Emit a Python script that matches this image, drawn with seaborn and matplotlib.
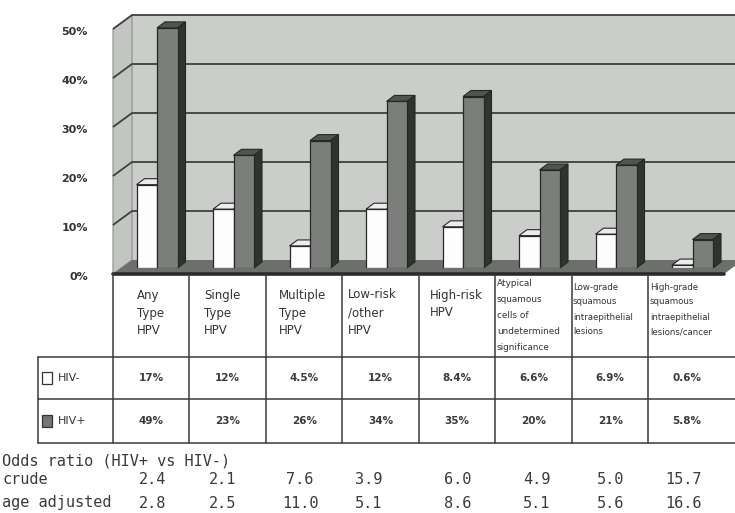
import matplotlib
matplotlib.use("Agg")
import matplotlib.pyplot as plt
import pandas as pd
import seaborn as sns
from matplotlib.patches import Polygon, Rectangle

# ---- data -------------------------------------------------------------
categories = [
    "Any\nType\nHPV",
    "Single\nType\nHPV",
    "Multiple\nType\nHPV",
    "Low-risk\n/other\nHPV",
    "High-risk\nHPV",
    "Atypical\nsquamous\ncells of\nundetermined\nsignificance",
    "Low-grade\nsquamous\nintraepithelial\nlesions",
    "High-grade\nsquamous\nintraepithelial\nlesions/cancer",
]
groups = ["HIV-", "HIV+"]
hiv_neg = [17, 12, 4.5, 12, 8.4, 6.6, 6.9, 0.6]
hiv_pos = [49, 23, 26, 34, 35, 20, 21, 5.8]
odds_crude = [2.4, 2.1, 7.6, 3.9, 6.0, 4.9, 5.0, 15.7]
odds_age_adj = [2.8, 2.5, 11.0, 5.1, 8.6, 5.1, 5.6, 16.6]
y_ticks = [0, 10, 20, 30, 40, 50]

df = pd.DataFrame({
    "category": categories * 2,
    "group": [groups[0]] * len(categories) + [groups[1]] * len(categories),
    "prevalence": hiv_neg + hiv_pos,
})

# ---- layout (figure pixels, origin top-left) ---------------------------
W, H = 735, 513
PLOT_LEFT, PLOT_RIGHT = 113, 735
BASE_Y = 268            # bar baseline
PX_PER_PCT = 4.9
YMAX = 54
COL_W = 76.5
GROUP_OFFSET = 44       # first bar group centre from plot left
FRONT_DY, BACK_DY = 6, -8
FRONT_X, BACK_X = 113, 132
RIGHT_FRONT, RIGHT_BACK = 724, 743
BAR_DEPTH = (8, 6)      # px right / up

palette = {"HIV-": "#fdfdfd", "HIV+": "#7b7e7b"}
top_col = {"HIV-": "#ececec", "HIV+": "#505550"}
side_col = {"HIV-": "#c8c8c8", "HIV+": "#2f342f"}
edge = "#262826"
text_col = "#333333"

sns.set_theme(style="white")
plt.rcParams["font.family"] = ["DejaVu Sans"]

fig = plt.figure(figsize=(W / 100, H / 100), dpi=100)

bg = fig.add_axes([0, 0, 1, 1])
bg.set_xlim(0, W)
bg.set_ylim(H, 0)
bg.axis("off")
bg.set_zorder(0)


def yb(v):
    return BASE_Y - PX_PER_PCT * v


top_v = y_ticks[-1]
# walls and floor
bg.add_patch(Polygon([(BACK_X, yb(top_v) + BACK_DY), (RIGHT_BACK, yb(top_v) + BACK_DY),
                      (RIGHT_BACK, yb(0) + BACK_DY), (BACK_X, yb(0) + BACK_DY)],
                     closed=True, facecolor="#cbcdcb", edgecolor="none"))
bg.add_patch(Polygon([(FRONT_X, yb(0) + FRONT_DY), (FRONT_X, yb(top_v) + FRONT_DY),
                      (BACK_X, yb(top_v) + BACK_DY), (BACK_X, yb(0) + BACK_DY)],
                     closed=True, facecolor="#c3c5c3", edgecolor="#8a8c8a", lw=0.8))
bg.add_patch(Polygon([(FRONT_X, yb(0) + FRONT_DY), (BACK_X, yb(0) + BACK_DY),
                      (RIGHT_BACK, yb(0) + BACK_DY), (RIGHT_FRONT, yb(0) + FRONT_DY)],
                     closed=True, facecolor="#6c6f6c", edgecolor="none"))
for v in y_ticks[1:]:
    bg.plot([FRONT_X, BACK_X, RIGHT_BACK],
            [yb(v) + FRONT_DY, yb(v) + BACK_DY, yb(v) + BACK_DY],
            color="#3e403e", lw=1.3, solid_capstyle="butt")
for v in y_ticks:
    bg.text(88, yb(v) + 9, f"{v}%", ha="right", va="center",
            fontsize=8, fontweight="bold", color=text_col)

# ---- bars -------------------------------------------------------------
ax = fig.add_axes([PLOT_LEFT / W, (H - BASE_Y) / H,
                   (PLOT_RIGHT - PLOT_LEFT) / W, YMAX * PX_PER_PCT / H])
ax.set_zorder(1)
ax.patch.set_visible(False)
sns.barplot(data=df, x="category", y="prevalence", hue="group",
            order=categories, hue_order=groups, palette=palette,
            width=2 * 20.5 / COL_W, edgecolor=edge, linewidth=0.9,
            legend=False, ax=ax)
x0 = -GROUP_OFFSET / COL_W
ax.set_xlim(x0, x0 + (PLOT_RIGHT - PLOT_LEFT) / COL_W)
ax.set_ylim(0, YMAX)
ax.axis("off")

ddx = BAR_DEPTH[0] / COL_W
ddy = BAR_DEPTH[1] / PX_PER_PCT
n = len(categories)
for k, p in enumerate(ax.patches[:2 * n]):
    g = groups[k // n]
    x, w, h = p.get_x(), p.get_width(), p.get_height()
    z = 2 if g == "HIV-" else 3
    p.set_zorder(z)
    top = Polygon([(x, h), (x + w, h), (x + w + ddx, h + ddy), (x + ddx, h + ddy)],
                  closed=True, facecolor=top_col[g], edgecolor=edge, lw=0.8,
                  zorder=z - 0.2, clip_on=False)
    side = Polygon([(x + w, 0), (x + w, h), (x + w + ddx, h + ddy), (x + w + ddx, ddy)],
                   closed=True, facecolor=side_col[g], edgecolor=edge, lw=0.8,
                   zorder=z - 0.2, clip_on=False)
    ax.add_patch(top)
    ax.add_patch(side)

# ---- data table -------------------------------------------------------
line_c = "#3a3a3a"
edges_x = [PLOT_LEFT + COL_W * i for i in range(n + 1)]
centers = [e + COL_W / 2 for e in edges_x[:-1]]
ROW_TOP, ROW1, ROW2, ROW_BOT = 274, 357, 399, 443
LEG_X = 38

bg.plot([FRONT_X, RIGHT_FRONT], [yb(0) + FRONT_DY - 0.5] * 2, color="#2a2c2a", lw=2.6)
for yy in (ROW1, ROW2, ROW_BOT):
    bg.plot([LEG_X, W], [yy, yy], color=line_c, lw=1.1)
for xx in edges_x[:-1]:
    bg.plot([xx, xx], [ROW_TOP, ROW_BOT], color=line_c, lw=1.1)
bg.plot([LEG_X, LEG_X], [ROW1, ROW_BOT], color=line_c, lw=1.1)

# header labels
head_x = [137, 204, 279, 348, 430, 497, 573, 650]
for i, lab in enumerate(categories):
    lines = lab.split("\n")
    if i < 5:
        y0, step, fs = 295, 18, 8.5
    elif i == 5:
        y0, step, fs = 284, 16, 6.4
    else:
        y0, step, fs = 287, 15, 6.2
    for j, s in enumerate(lines):
        bg.text(head_x[i], y0 + j * step, s, ha="left", va="center",
                fontsize=fs, color=text_col)

# legend swatches
row_y = [(ROW1 + ROW2) / 2, (ROW2 + ROW_BOT) / 2]
for r, g in enumerate(groups):
    bg.add_patch(Rectangle((42, row_y[r] - 6), 10, 12, facecolor=palette[g] if g == "HIV-" else "#727572",
                           edgecolor="#333333", lw=0.9))
    bg.text(58, row_y[r], g, ha="left", va="center", fontsize=8, color=text_col)

for i in range(n):
    bg.text(centers[i], row_y[0], f"{hiv_neg[i]:g}%", ha="center", va="center",
            fontsize=7.5, fontweight="bold", color="#3a3a3a")
    bg.text(centers[i], row_y[1], f"{hiv_pos[i]:g}%", ha="center", va="center",
            fontsize=7.5, fontweight="bold", color="#3a3a3a")

# odds ratios
mono = ["DejaVu Sans Mono"]
odds_x = [153, 223, 300, 369, 458, 537, 611, 683]
bg.text(2, 461, "Odds ratio (HIV+ vs HIV-)", ha="left", va="center",
        fontsize=11, family=mono, color="#3a3a3a")
bg.text(2, 480, "crude", ha="left", va="center", fontsize=11, family=mono, color="#3a3a3a")
bg.text(2, 503, "age adjusted", ha="left", va="center", fontsize=11, family=mono, color="#3a3a3a")
for i in range(n):
    bg.text(odds_x[i], 480, f"{odds_crude[i]:.1f}", ha="center", va="center",
            fontsize=11, family=mono, color="#3a3a3a")
    bg.text(odds_x[i], 503, f"{odds_age_adj[i]:.1f}", ha="center", va="center",
            fontsize=11, family=mono, color="#3a3a3a")

fig.savefig("out.png", dpi=100, facecolor="white")
